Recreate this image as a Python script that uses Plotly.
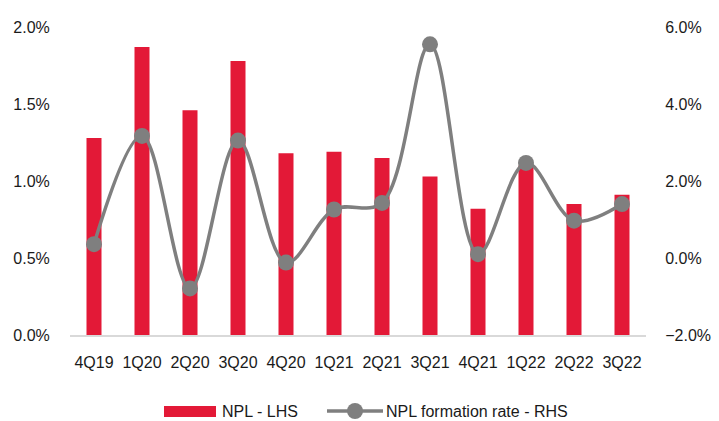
import plotly.graph_objects as go

# Quarterly data
quarters = ["4Q19", "1Q20", "2Q20", "3Q20", "4Q20", "1Q21",
            "2Q21", "3Q21", "4Q21", "1Q22", "2Q22", "3Q22"]
npl_lhs = [1.28, 1.87, 1.46, 1.78, 1.18, 1.19,
           1.15, 1.03, 0.82, 1.10, 0.85, 0.91]
npl_formation_rhs = [0.36, 3.17, -0.79, 3.05, -0.12, 1.26,
                     1.43, 5.55, 0.10, 2.47, 0.97, 1.40]

RED = "#E31937"
GREY = "#7F7F7F"
TEXT = "#1a1a1a"
FONT = "Liberation Sans, Arial, sans-serif"
FS = 16

fig = go.Figure()
fig.add_trace(go.Bar(
    x=quarters, y=npl_lhs, name="NPL - LHS",
    marker=dict(color=RED, line=dict(width=0)),
    yaxis="y",
))
fig.add_trace(go.Scatter(
    x=quarters, y=npl_formation_rhs, name="NPL formation rate - RHS",
    mode="lines+markers",
    line=dict(color=GREY, width=3.5, shape="spline", smoothing=1.0),
    marker=dict(color=GREY, size=16),
    yaxis="y2",
))

# plot area in pixels: x 70..646, y 27..335
L, R, T, B = 70, 646, 27, 335
W, H = R - L, B - T


def px(x):
    return (x - L) / W


def py(y):
    return (B - y) / H


shapes = [
    # legend swatch for bars
    dict(type="rect", xref="paper", yref="paper",
         x0=px(164), x1=px(216), y0=py(406), y1=py(417),
         fillcolor=RED, line=dict(width=0)),
    # legend line for the rate series
    dict(type="line", xref="paper", yref="paper",
         x0=px(327), x1=px(383), y0=py(411), y1=py(411),
         line=dict(color=GREY, width=3.5)),
    dict(type="circle", xref="paper", yref="paper",
         xsizemode="pixel", ysizemode="pixel",
         xanchor=px(355), yanchor=py(411),
         x0=-8, x1=8, y0=-8, y1=8,
         fillcolor=GREY, line=dict(width=0)),
]

annotations = [
    dict(text="NPL - LHS", xref="paper", yref="paper",
         x=px(220), y=py(411), xanchor="left", yanchor="middle",
         showarrow=False, font=dict(family=FONT, size=FS, color=TEXT)),
    dict(text="NPL formation rate - RHS", xref="paper", yref="paper",
         x=px(384), y=py(411), xanchor="left", yanchor="middle",
         showarrow=False, font=dict(family=FONT, size=FS, color=TEXT)),
]

fig.update_layout(
    width=719, height=421,
    margin=dict(l=L, r=719 - R, t=T, b=421 - B),
    paper_bgcolor="white", plot_bgcolor="white",
    font=dict(family=FONT, size=FS, color=TEXT),
    showlegend=False,
    bargap=0.6875,
    shapes=shapes,
    annotations=annotations,
    xaxis=dict(
        range=[-0.5, len(quarters) - 0.5],
        showgrid=False, zeroline=False, automargin=False,
        showline=True, linecolor="#D9D9D9", linewidth=2,
        ticks="outside", ticklen=12, tickcolor="rgba(0,0,0,0)",
        tickangle=0, tickfont=dict(size=FS),
    ),
    yaxis=dict(
        range=[0, 2.0], dtick=0.5, tickformat=".1f", ticksuffix="%",
        showgrid=False, zeroline=False, showline=False, automargin=False,
        ticks="outside", ticklen=16, tickcolor="rgba(0,0,0,0)",
        tickfont=dict(size=FS),
    ),
    yaxis2=dict(
        range=[-2.0, 6.0], dtick=2.0, tickformat=".1f", ticksuffix="%",
        overlaying="y", side="right", automargin=False,
        showgrid=False, zeroline=False, showline=False,
        ticks="outside", ticklen=15, tickcolor="rgba(0,0,0,0)",
        tickfont=dict(size=FS),
    ),
)

fig.write_html("out.html")
